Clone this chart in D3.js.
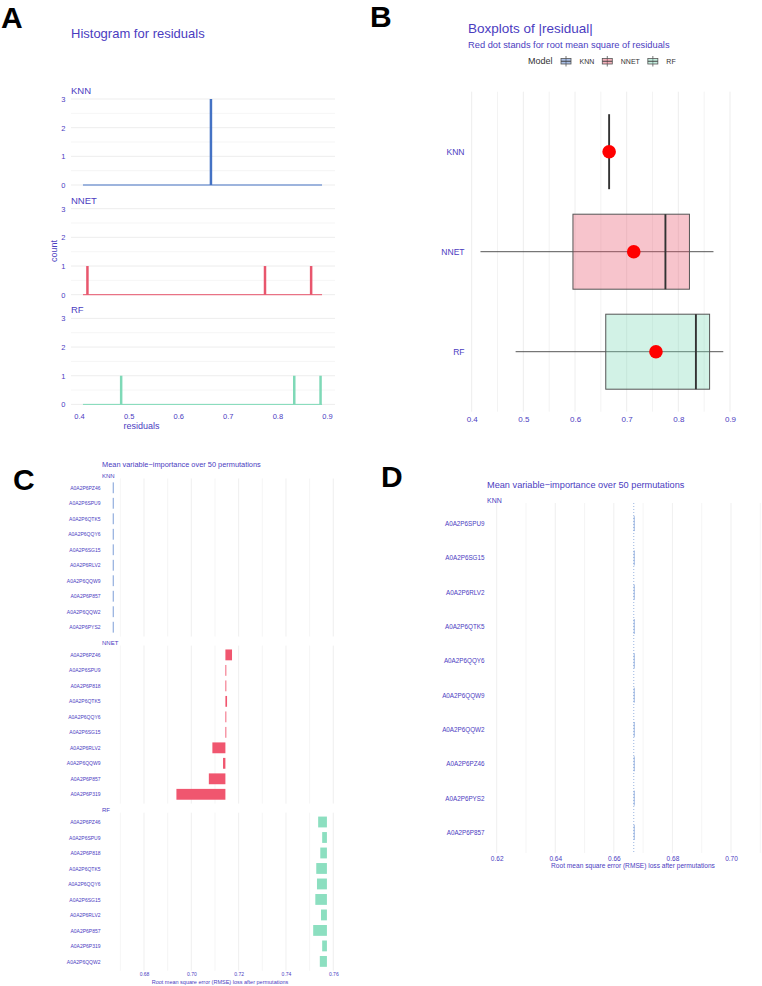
<!DOCTYPE html>
<html>
<head>
<meta charset="utf-8">
<script src="https://cdn.jsdelivr.net/npm/d3@7"></script>
<style>
  body { margin: 0; background: #fff; }
  svg { display: block; }
</style>
</head>
<body>
<div id="chart"></div>
<script>
// --- Data ---
const models = ["KNN", "NNET", "RF"];

// absolute residuals per model (3 test samples each)
const knnResiduals = [0.666, 0.666, 0.666];
const nnetResiduals = [0.417, 0.775, 0.868];
const rfResiduals = [0.485, 0.834, 0.887];
const histRange = [0.408, 0.890];
const histTicks = [0.4, 0.5, 0.6, 0.7, 0.8, 0.9];
const countTicks = [0, 1, 2, 3];
const boxTicks = [0.4, 0.5, 0.6, 0.7, 0.8, 0.9];

// permutation importance (panel C)
const knnVarsC = ["A0A2P6PZ46", "A0A2P6SPU9", "A0A2P6QTK5", "A0A2P6QQY6", "A0A2P6SG15",
  "A0A2P6RLV2", "A0A2P6QQW9", "A0A2P6P857", "A0A2P6QQW2", "A0A2P6PYS2"];
const knnLossC = [0.6668, 0.6668, 0.6668, 0.6668, 0.6668, 0.6668, 0.6668, 0.6668, 0.6668, 0.6668];
const knnBase = 0.6668;

const nnetVarsC = ["A0A2P6PZ46", "A0A2P6SPU9", "A0A2P6P818", "A0A2P6QTK5", "A0A2P6QQY6",
  "A0A2P6SG15", "A0A2P6RLV2", "A0A2P6QQW9", "A0A2P6P857", "A0A2P6P319"];
const nnetLossC = [0.7172, 0.7145, 0.7144, 0.7151, 0.7147, 0.7145, 0.7089, 0.7134, 0.7074, 0.6937];
const nnetBase = 0.7144;

const rfVarsC = ["A0A2P6PZ46", "A0A2P6SPU9", "A0A2P6P818", "A0A2P6QTK5", "A0A2P6QQY6",
  "A0A2P6SG15", "A0A2P6RLV2", "A0A2P6P857", "A0A2P6P319", "A0A2P6QQW2"];
const rfLossC = [0.7536, 0.7553, 0.7545, 0.7528, 0.7531, 0.7524, 0.7548, 0.7515, 0.7553, 0.7543];
const rfBase = 0.7573;

const lossTicksC = [0.68, 0.70, 0.72, 0.74, 0.76];

// permutation importance, KNN only (panel D)
const knnVarsD = ["A0A2P6SPU9", "A0A2P6SG15", "A0A2P6RLV2", "A0A2P6QTK5", "A0A2P6QQY6",
  "A0A2P6QQW9", "A0A2P6QQW2", "A0A2P6PZ46", "A0A2P6PYS2", "A0A2P6P857"];
const knnLossD = [0.6668, 0.6668, 0.6668, 0.6668, 0.6668, 0.6668, 0.6668, 0.6668, 0.6668, 0.6668];
const lossTicksD = [0.62, 0.64, 0.66, 0.68, 0.70];

// --- Constants ---
const FONT = "'Liberation Sans', Arial, sans-serif";
const TEXT = "#4b3cbf";
const GRID = "#ebebeb";
const COLORS = { KNN: "#4472c4", NNET: "#e8566d", RF: "#7fd9b7" };
const BAR_COLORS = { KNN: "#4a78c8", NNET: "#f0566f", RF: "#8cdfc0" };

const residuals = { KNN: knnResiduals, NNET: nnetResiduals, RF: rfResiduals };

const svg = d3.select("#chart").append("svg")
  .attr("width", 762)
  .attr("height", 986)
  .attr("font-family", FONT);

// strip the domain line and recolor tick text
function styleAxis(g, size) {
  g.attr("font-family", FONT);
  g.select(".domain").remove();
  g.selectAll("text").attr("fill", TEXT).attr("font-size", size);
}

// --- Panel letters ---
[["A", 1, 28], ["B", 370, 27], ["C", 13, 490], ["D", 381, 487]].forEach(([t, x, y]) => {
  svg.append("text").attr("x", x).attr("y", y)
    .attr("font-size", 30).attr("font-weight", "bold").attr("fill", "#000").text(t);
});

// --- Panel A: histograms ---
const gA = svg.append("g");
gA.append("text").attr("x", 71).attr("y", 38).attr("font-size", 13).attr("fill", TEXT)
  .text("Histogram for residuals");

const xHist = d3.scaleLinear().domain([0.4, 0.9]).range([79, 327]);

models.forEach((m, i) => {
  const off = 109.7 * i;
  const y = d3.scaleLinear().domain([0, 3]).range([185 + off, 99 + off]);

  gA.append("g").selectAll("line")
    .data(d3.range(0, 7).map(d => d / 2))
    .join("line")
    .attr("x1", 71).attr("x2", 335)
    .attr("y1", d => y(d)).attr("y2", d => y(d))
    .attr("stroke", GRID)
    .attr("stroke-width", d => d % 1 === 0 ? 0.9 : 0.5);

  gA.append("g").attr("transform", "translate(65.5,0)")
    .call(d3.axisLeft(y).tickValues(countTicks).tickSize(0).tickPadding(0)
      .tickFormat(d3.format("d")))
    .call(g => styleAxis(g, 7.5));

  gA.append("text").attr("x", 71).attr("y", y(3) - 5)
    .attr("font-size", 9.5).attr("fill", TEXT).text(m);

  gA.append("line")
    .attr("x1", xHist(histRange[0])).attr("x2", xHist(histRange[1]))
    .attr("y1", y(0)).attr("y2", y(0))
    .attr("stroke", COLORS[m]).attr("stroke-width", 1);

  const counts = d3.rollups(residuals[m], v => v.length, d => d);
  gA.append("g").selectAll("line")
    .data(counts)
    .join("line")
    .attr("x1", d => xHist(d[0])).attr("x2", d => xHist(d[0]))
    .attr("y1", y(0)).attr("y2", d => y(d[1]))
    .attr("stroke", COLORS[m]).attr("stroke-width", 2.5);
});

gA.append("g").attr("transform", "translate(0,409.4)")
  .call(d3.axisBottom(xHist).tickValues(histTicks).tickSize(0).tickPadding(4.6)
    .tickFormat(d3.format(".1f")))
  .call(g => styleAxis(g, 7.5));

gA.append("text").attr("x", 141.5).attr("y", 428.5).attr("text-anchor", "middle")
  .attr("font-size", 9).attr("fill", TEXT).text("residuals");
gA.append("text").attr("transform", "translate(57,251) rotate(-90)")
  .attr("text-anchor", "middle").attr("font-size", 9).attr("fill", TEXT).text("count");

// --- Panel B: boxplots ---
const gB = svg.append("g");
gB.append("text").attr("x", 468).attr("y", 33).attr("font-size", 13.5).attr("fill", TEXT)
  .text("Boxplots of |residual|");
gB.append("text").attr("x", 468).attr("y", 47.5).attr("font-size", 9.3).attr("fill", TEXT)
  .text("Red dot stands for root mean square of residuals");

// legend
gB.append("text").attr("x", 528).attr("y", 64).attr("font-size", 9).attr("fill", "#333").text("Model");
let lx = 561;
models.forEach(m => {
  const key = gB.append("g").attr("transform", `translate(${lx},56)`);
  key.append("line").attr("x1", 5).attr("x2", 5).attr("y1", 0).attr("y2", 10.5)
    .attr("stroke", "#555").attr("stroke-width", 0.8);
  key.append("rect").attr("x", 0).attr("y", 2.5).attr("width", 10).attr("height", 5.5)
    .attr("fill", COLORS[m]).attr("fill-opacity", 0.45).attr("stroke", "#555").attr("stroke-width", 0.8);
  key.append("line").attr("x1", 0).attr("x2", 10).attr("y1", 5.25).attr("y2", 5.25)
    .attr("stroke", "#444").attr("stroke-width", 1);
  const t = gB.append("text").attr("x", lx + 18.5).attr("y", 63.5)
    .attr("font-size", 7).attr("fill", "#333").text(m);
  lx += 18.5 + t.node().getComputedTextLength() + 8;
});

const xBox = d3.scaleLinear().domain([0.4, 0.9]).range([471.7, 730]);
const yBox = d3.scalePoint().domain(models).range([91.7, 411.7]).padding(0.6);
const boxH = yBox.step() * 0.75;

gB.append("g").selectAll("line")
  .data(d3.range(0, 11).map(i => 0.4 + i * 0.05))
  .join("line")
  .attr("x1", d => xBox(d)).attr("x2", d => xBox(d))
  .attr("y1", 91.7).attr("y2", 411.7)
  .attr("stroke", GRID)
  .attr("stroke-width", (d, i) => i % 2 === 0 ? 0.9 : 0.6);

models.forEach(m => {
  const v = residuals[m].slice().sort(d3.ascending);
  const q1 = d3.quantile(v, 0.25), med = d3.quantile(v, 0.5), q3 = d3.quantile(v, 0.75);
  const rms = Math.sqrt(d3.mean(v, d => d * d));
  const cy = yBox(m);
  gB.append("line")
    .attr("x1", xBox(v[0])).attr("x2", xBox(v[v.length - 1]))
    .attr("y1", cy).attr("y2", cy)
    .attr("stroke", "#444").attr("stroke-width", 0.9);
  gB.append("rect")
    .attr("x", xBox(q1)).attr("width", xBox(q3) - xBox(q1))
    .attr("y", cy - boxH / 2).attr("height", boxH)
    .attr("fill", COLORS[m]).attr("fill-opacity", 0.35)
    .attr("stroke", "#555").attr("stroke-width", 1);
  gB.append("line")
    .attr("x1", xBox(med)).attr("x2", xBox(med))
    .attr("y1", cy - boxH / 2).attr("y2", cy + boxH / 2)
    .attr("stroke", "#333").attr("stroke-width", 1.9);
  gB.append("circle").attr("cx", xBox(rms)).attr("cy", cy).attr("r", 6.8).attr("fill", "#ff0000");
});

gB.append("g").attr("transform", "translate(464.5,0)")
  .call(d3.axisLeft(yBox).tickSize(0).tickPadding(0))
  .call(g => styleAxis(g, 8.5));
gB.append("g").attr("transform", "translate(0,411.7)")
  .call(d3.axisBottom(xBox).tickValues(boxTicks).tickSize(0).tickPadding(4.4)
    .tickFormat(d3.format(".1f")))
  .call(g => styleAxis(g, 8));

// --- Panel C: variable importance, all models ---
const gC = svg.append("g");
gC.append("text").attr("x", 102).attr("y", 467).attr("font-size", 7.4).attr("fill", TEXT)
  .text("Mean variable\u2212importance over 50 permutations");

const xC = d3.scaleLinear().domain([0.68, 0.76]).range([144, 333.3]);
const facetsC = [
  { model: "KNN", vars: knnVarsC, loss: knnLossC, base: knnBase },
  { model: "NNET", vars: nnetVarsC, loss: nnetLossC, base: nnetBase },
  { model: "RF", vars: rfVarsC, loss: rfLossC, base: rfBase }
];
const facetH = 158;

facetsC.forEach((f, i) => {
  const top = 478.5 + 167.1 * i;
  const y = d3.scalePoint().domain(f.vars).range([top, top + facetH]).padding(0.6);
  const barH = y.step() * 0.7;

  gC.append("g").selectAll("line")
    .data(d3.range(67, 77).map(d => d / 100))
    .join("line")
    .attr("x1", d => xC(d)).attr("x2", d => xC(d))
    .attr("y1", top).attr("y2", top + facetH)
    .attr("stroke", GRID)
    .attr("stroke-width", (d, j) => j % 2 === 1 ? 0.8 : 0.5);

  gC.append("text").attr("x", 102).attr("y", top - 0.5)
    .attr("font-size", 6).attr("fill", TEXT).text(f.model);

  gC.append("g").selectAll("rect")
    .data(f.vars.map((v, j) => ({ v, loss: f.loss[j] })))
    .join("rect")
    .attr("x", d => xC(Math.min(d.loss, f.base)))
    .attr("width", d => Math.max(0.9, Math.abs(xC(d.loss) - xC(f.base))))
    .attr("y", d => y(d.v) - barH / 2)
    .attr("height", barH)
    .attr("fill", BAR_COLORS[f.model])
    .attr("fill-opacity", f.model === "KNN" ? 0.8 : 1);

  gC.append("g").attr("transform", "translate(100.5,0)")
    .call(d3.axisLeft(y).tickSize(0).tickPadding(0))
    .call(g => styleAxis(g, 5));

  if (i === facetsC.length - 1) {
    gC.append("g").attr("transform", `translate(0,${top + facetH})`)
      .call(d3.axisBottom(xC).tickValues(lossTicksC).tickSize(0).tickPadding(2)
        .tickFormat(d3.format(".2f")))
      .call(g => styleAxis(g, 5));
  }
});

gC.append("text").attr("x", 220).attr("y", 984.3).attr("text-anchor", "middle")
  .attr("font-size", 5.5).attr("fill", TEXT)
  .text("Root mean square error (RMSE) loss after permutations");

// --- Panel D: variable importance, KNN ---
const gD = svg.append("g");
gD.append("text").attr("x", 487).attr("y", 488.3).attr("font-size", 9.2).attr("fill", TEXT)
  .text("Mean variable\u2212importance over 50 permutations");
gD.append("text").attr("x", 487).attr("y", 502.5).attr("font-size", 7).attr("fill", TEXT).text("KNN");

const xD = d3.scaleLinear().domain([0.62, 0.70]).range([496.7, 731]);
const yD = d3.scalePoint().domain(knnVarsD).range([503, 853]).padding(0.6);

gD.append("g").selectAll("line")
  .data(d3.range(62, 72).map(d => d / 100))
  .join("line")
  .attr("x1", d => xD(d)).attr("x2", d => xD(d))
  .attr("y1", 503).attr("y2", 853)
  .attr("stroke", GRID)
  .attr("stroke-width", (d, j) => j % 2 === 0 ? 0.8 : 0.5);

gD.append("line")
  .attr("x1", xD(knnBase)).attr("x2", xD(knnBase))
  .attr("y1", 503).attr("y2", 853)
  .attr("stroke", BAR_COLORS.KNN).attr("stroke-width", 0.7)
  .attr("stroke-dasharray", "1,2").attr("stroke-opacity", 0.8);

gD.append("g").selectAll("rect")
  .data(knnVarsD.map((v, j) => ({ v, loss: knnLossD[j] })))
  .join("rect")
  .attr("x", d => xD(Math.min(d.loss, knnBase)))
  .attr("width", d => Math.max(0.9, Math.abs(xD(d.loss) - xD(knnBase))))
  .attr("y", d => yD(d.v) - 7.5)
  .attr("height", 15)
  .attr("fill", BAR_COLORS.KNN).attr("fill-opacity", 0.6);

gD.append("g").attr("transform", "translate(484.5,0)")
  .call(d3.axisLeft(yD).tickSize(0).tickPadding(0))
  .call(g => styleAxis(g, 6.3));
gD.append("g").attr("transform", "translate(0,853)")
  .call(d3.axisBottom(xD).tickValues(lossTicksD).tickSize(0).tickPadding(3)
    .tickFormat(d3.format(".2f")))
  .call(g => styleAxis(g, 6.5));

gD.append("text").attr("x", 633).attr("y", 868.3).attr("text-anchor", "middle")
  .attr("font-size", 6.6).attr("fill", TEXT)
  .text("Root mean square error (RMSE) loss after permutations");
</script>
</body>
</html>
